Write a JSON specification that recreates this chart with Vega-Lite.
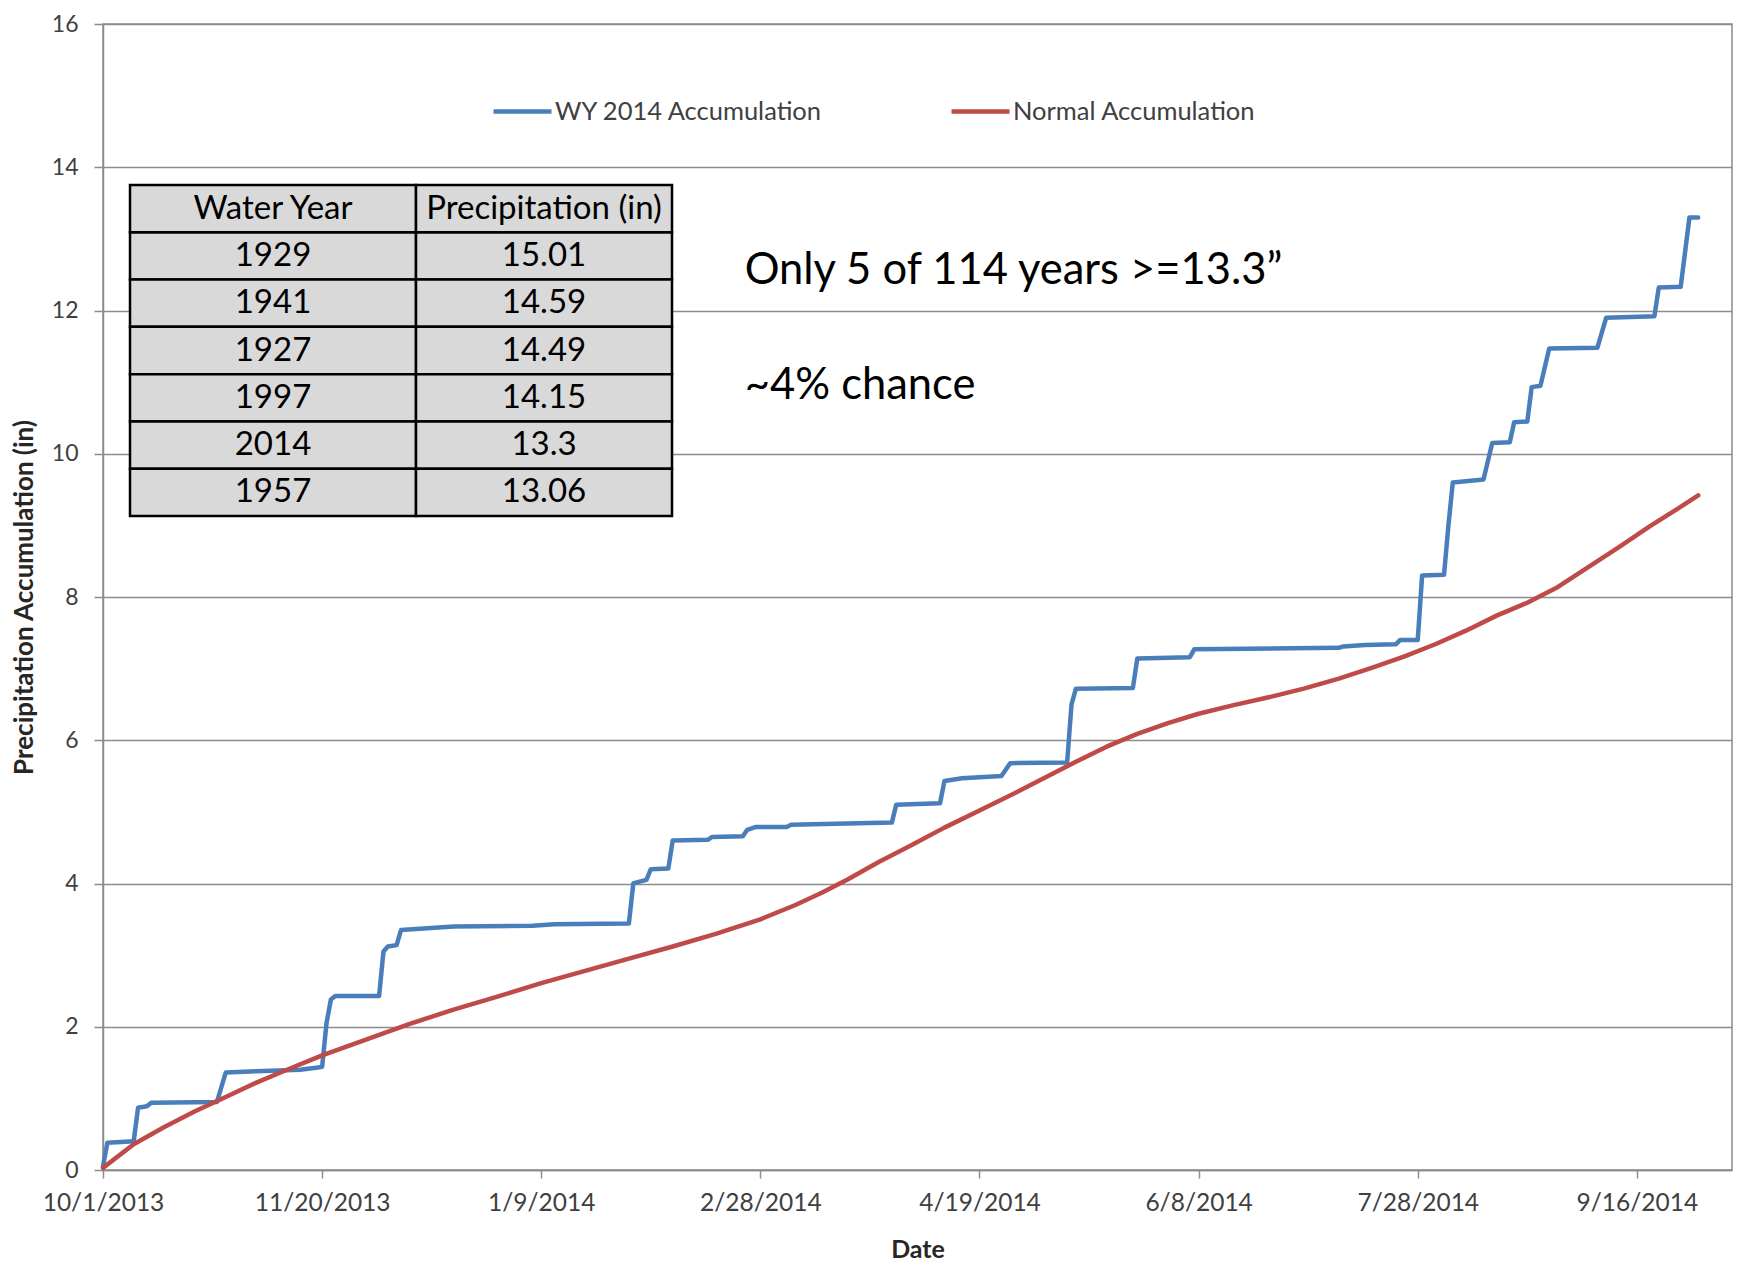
{
  "$schema": "https://vega.github.io/schema/vega-lite/v6.json",
  "width": 1629,
  "height": 1146,
  "autosize": {"type": "none"},
  "padding": {"left": 103, "top": 24, "right": 6, "bottom": 98},
  "background": "white",
  "config": {
    "font": "Lato",
    "view": {"stroke": "#8c8c8c", "strokeWidth": 1.5},
    "axis": {"labelFont": "Lato", "titleFont": "Lato"}
  },
  "datasets": {
    "accumulation": [
      {"date": "2013-10-01", "series": "WY 2014 Accumulation", "inches": 0.05},
      {"date": "2013-10-02", "series": "WY 2014 Accumulation", "inches": 0.38},
      {"date": "2013-10-08", "series": "WY 2014 Accumulation", "inches": 0.40},
      {"date": "2013-10-09", "series": "WY 2014 Accumulation", "inches": 0.87},
      {"date": "2013-10-11", "series": "WY 2014 Accumulation", "inches": 0.89},
      {"date": "2013-10-12", "series": "WY 2014 Accumulation", "inches": 0.94},
      {"date": "2013-10-27", "series": "WY 2014 Accumulation", "inches": 0.95},
      {"date": "2013-10-29", "series": "WY 2014 Accumulation", "inches": 1.36},
      {"date": "2013-11-05", "series": "WY 2014 Accumulation", "inches": 1.38},
      {"date": "2013-11-15", "series": "WY 2014 Accumulation", "inches": 1.40},
      {"date": "2013-11-19", "series": "WY 2014 Accumulation", "inches": 1.43},
      {"date": "2013-11-20", "series": "WY 2014 Accumulation", "inches": 1.44},
      {"date": "2013-11-21", "series": "WY 2014 Accumulation", "inches": 2.05},
      {"date": "2013-11-22", "series": "WY 2014 Accumulation", "inches": 2.38},
      {"date": "2013-11-23", "series": "WY 2014 Accumulation", "inches": 2.43},
      {"date": "2013-12-03", "series": "WY 2014 Accumulation", "inches": 2.43},
      {"date": "2013-12-04", "series": "WY 2014 Accumulation", "inches": 3.05},
      {"date": "2013-12-05", "series": "WY 2014 Accumulation", "inches": 3.12},
      {"date": "2013-12-07", "series": "WY 2014 Accumulation", "inches": 3.14},
      {"date": "2013-12-08", "series": "WY 2014 Accumulation", "inches": 3.35},
      {"date": "2013-12-20", "series": "WY 2014 Accumulation", "inches": 3.40},
      {"date": "2014-01-07", "series": "WY 2014 Accumulation", "inches": 3.41},
      {"date": "2014-01-12", "series": "WY 2014 Accumulation", "inches": 3.43},
      {"date": "2014-01-29", "series": "WY 2014 Accumulation", "inches": 3.44},
      {"date": "2014-01-30", "series": "WY 2014 Accumulation", "inches": 4.00},
      {"date": "2014-01-31", "series": "WY 2014 Accumulation", "inches": 4.02},
      {"date": "2014-02-02", "series": "WY 2014 Accumulation", "inches": 4.05},
      {"date": "2014-02-03", "series": "WY 2014 Accumulation", "inches": 4.20},
      {"date": "2014-02-07", "series": "WY 2014 Accumulation", "inches": 4.21},
      {"date": "2014-02-08", "series": "WY 2014 Accumulation", "inches": 4.60},
      {"date": "2014-02-16", "series": "WY 2014 Accumulation", "inches": 4.61},
      {"date": "2014-02-17", "series": "WY 2014 Accumulation", "inches": 4.65},
      {"date": "2014-02-24", "series": "WY 2014 Accumulation", "inches": 4.66},
      {"date": "2014-02-25", "series": "WY 2014 Accumulation", "inches": 4.75},
      {"date": "2014-02-27", "series": "WY 2014 Accumulation", "inches": 4.79},
      {"date": "2014-03-06", "series": "WY 2014 Accumulation", "inches": 4.79},
      {"date": "2014-03-07", "series": "WY 2014 Accumulation", "inches": 4.82},
      {"date": "2014-03-30", "series": "WY 2014 Accumulation", "inches": 4.85},
      {"date": "2014-03-31", "series": "WY 2014 Accumulation", "inches": 5.10},
      {"date": "2014-04-10", "series": "WY 2014 Accumulation", "inches": 5.12},
      {"date": "2014-04-11", "series": "WY 2014 Accumulation", "inches": 5.43},
      {"date": "2014-04-15", "series": "WY 2014 Accumulation", "inches": 5.47},
      {"date": "2014-04-24", "series": "WY 2014 Accumulation", "inches": 5.50},
      {"date": "2014-04-26", "series": "WY 2014 Accumulation", "inches": 5.68},
      {"date": "2014-05-09", "series": "WY 2014 Accumulation", "inches": 5.69},
      {"date": "2014-05-10", "series": "WY 2014 Accumulation", "inches": 6.50},
      {"date": "2014-05-11", "series": "WY 2014 Accumulation", "inches": 6.72},
      {"date": "2014-05-24", "series": "WY 2014 Accumulation", "inches": 6.73},
      {"date": "2014-05-25", "series": "WY 2014 Accumulation", "inches": 7.14},
      {"date": "2014-06-06", "series": "WY 2014 Accumulation", "inches": 7.16},
      {"date": "2014-06-07", "series": "WY 2014 Accumulation", "inches": 7.27},
      {"date": "2014-07-10", "series": "WY 2014 Accumulation", "inches": 7.29},
      {"date": "2014-07-11", "series": "WY 2014 Accumulation", "inches": 7.31},
      {"date": "2014-07-16", "series": "WY 2014 Accumulation", "inches": 7.33},
      {"date": "2014-07-23", "series": "WY 2014 Accumulation", "inches": 7.34},
      {"date": "2014-07-24", "series": "WY 2014 Accumulation", "inches": 7.40},
      {"date": "2014-07-28", "series": "WY 2014 Accumulation", "inches": 7.40},
      {"date": "2014-07-29", "series": "WY 2014 Accumulation", "inches": 8.30},
      {"date": "2014-08-03", "series": "WY 2014 Accumulation", "inches": 8.31},
      {"date": "2014-08-04", "series": "WY 2014 Accumulation", "inches": 9.00},
      {"date": "2014-08-05", "series": "WY 2014 Accumulation", "inches": 9.60},
      {"date": "2014-08-12", "series": "WY 2014 Accumulation", "inches": 9.64},
      {"date": "2014-08-14", "series": "WY 2014 Accumulation", "inches": 10.15},
      {"date": "2014-08-18", "series": "WY 2014 Accumulation", "inches": 10.16},
      {"date": "2014-08-19", "series": "WY 2014 Accumulation", "inches": 10.44},
      {"date": "2014-08-22", "series": "WY 2014 Accumulation", "inches": 10.45},
      {"date": "2014-08-23", "series": "WY 2014 Accumulation", "inches": 10.93},
      {"date": "2014-08-25", "series": "WY 2014 Accumulation", "inches": 10.95},
      {"date": "2014-08-27", "series": "WY 2014 Accumulation", "inches": 11.47},
      {"date": "2014-09-07", "series": "WY 2014 Accumulation", "inches": 11.48},
      {"date": "2014-09-09", "series": "WY 2014 Accumulation", "inches": 11.90},
      {"date": "2014-09-20", "series": "WY 2014 Accumulation", "inches": 11.92},
      {"date": "2014-09-21", "series": "WY 2014 Accumulation", "inches": 12.32},
      {"date": "2014-09-26", "series": "WY 2014 Accumulation", "inches": 12.33},
      {"date": "2014-09-28", "series": "WY 2014 Accumulation", "inches": 13.30},
      {"date": "2014-09-30", "series": "WY 2014 Accumulation", "inches": 13.30},
      {"date": "2013-10-01", "series": "Normal Accumulation", "inches": 0.03},
      {"date": "2013-10-08", "series": "Normal Accumulation", "inches": 0.36},
      {"date": "2013-10-15", "series": "Normal Accumulation", "inches": 0.60},
      {"date": "2013-10-22", "series": "Normal Accumulation", "inches": 0.82},
      {"date": "2013-10-29", "series": "Normal Accumulation", "inches": 1.02},
      {"date": "2013-11-05", "series": "Normal Accumulation", "inches": 1.22},
      {"date": "2013-11-12", "series": "Normal Accumulation", "inches": 1.40},
      {"date": "2013-11-20", "series": "Normal Accumulation", "inches": 1.60},
      {"date": "2013-11-30", "series": "Normal Accumulation", "inches": 1.82},
      {"date": "2013-12-10", "series": "Normal Accumulation", "inches": 2.04},
      {"date": "2013-12-20", "series": "Normal Accumulation", "inches": 2.24},
      {"date": "2013-12-30", "series": "Normal Accumulation", "inches": 2.42},
      {"date": "2014-01-09", "series": "Normal Accumulation", "inches": 2.61},
      {"date": "2014-01-19", "series": "Normal Accumulation", "inches": 2.78},
      {"date": "2014-01-29", "series": "Normal Accumulation", "inches": 2.95},
      {"date": "2014-02-08", "series": "Normal Accumulation", "inches": 3.12},
      {"date": "2014-02-18", "series": "Normal Accumulation", "inches": 3.30},
      {"date": "2014-02-28", "series": "Normal Accumulation", "inches": 3.50},
      {"date": "2014-03-08", "series": "Normal Accumulation", "inches": 3.70},
      {"date": "2014-03-14", "series": "Normal Accumulation", "inches": 3.87},
      {"date": "2014-03-20", "series": "Normal Accumulation", "inches": 4.06},
      {"date": "2014-03-27", "series": "Normal Accumulation", "inches": 4.30},
      {"date": "2014-04-03", "series": "Normal Accumulation", "inches": 4.52},
      {"date": "2014-04-11", "series": "Normal Accumulation", "inches": 4.78},
      {"date": "2014-04-19", "series": "Normal Accumulation", "inches": 5.02},
      {"date": "2014-04-27", "series": "Normal Accumulation", "inches": 5.26},
      {"date": "2014-05-04", "series": "Normal Accumulation", "inches": 5.48},
      {"date": "2014-05-11", "series": "Normal Accumulation", "inches": 5.70},
      {"date": "2014-05-18", "series": "Normal Accumulation", "inches": 5.91},
      {"date": "2014-05-25", "series": "Normal Accumulation", "inches": 6.09},
      {"date": "2014-06-01", "series": "Normal Accumulation", "inches": 6.24},
      {"date": "2014-06-08", "series": "Normal Accumulation", "inches": 6.37},
      {"date": "2014-06-16", "series": "Normal Accumulation", "inches": 6.49},
      {"date": "2014-06-24", "series": "Normal Accumulation", "inches": 6.60},
      {"date": "2014-07-02", "series": "Normal Accumulation", "inches": 6.72},
      {"date": "2014-07-10", "series": "Normal Accumulation", "inches": 6.86},
      {"date": "2014-07-18", "series": "Normal Accumulation", "inches": 7.02},
      {"date": "2014-07-25", "series": "Normal Accumulation", "inches": 7.17},
      {"date": "2014-08-01", "series": "Normal Accumulation", "inches": 7.34},
      {"date": "2014-08-08", "series": "Normal Accumulation", "inches": 7.53},
      {"date": "2014-08-15", "series": "Normal Accumulation", "inches": 7.74},
      {"date": "2014-08-22", "series": "Normal Accumulation", "inches": 7.92},
      {"date": "2014-08-29", "series": "Normal Accumulation", "inches": 8.14},
      {"date": "2014-09-05", "series": "Normal Accumulation", "inches": 8.42},
      {"date": "2014-09-12", "series": "Normal Accumulation", "inches": 8.70},
      {"date": "2014-09-19", "series": "Normal Accumulation", "inches": 8.99},
      {"date": "2014-09-25", "series": "Normal Accumulation", "inches": 9.22},
      {"date": "2014-09-30", "series": "Normal Accumulation", "inches": 9.42}
    ],
    "wettest": [
      {"Water Year": "1929", "Precipitation (in)": 15.01},
      {"Water Year": "1941", "Precipitation (in)": 14.59},
      {"Water Year": "1927", "Precipitation (in)": 14.49},
      {"Water Year": "1997", "Precipitation (in)": 14.15},
      {"Water Year": "2014", "Precipitation (in)": 13.3},
      {"Water Year": "1957", "Precipitation (in)": 13.06}
    ]
  },
  "resolve": {"scale": {"x": "independent", "y": "independent"}},
  "layer": [
    {
      "layer": [
        {
          "data": {"name": "accumulation"},
          "mark": {"type": "line", "strokeWidth": 4.5, "strokeJoin": "round", "strokeCap": "round"},
          "encoding": {
            "x": {
              "field": "date",
              "type": "temporal",
              "scale": {
                "type": "utc",
                "domain": [
                  {"year": 2013, "month": 10, "date": 1, "utc": true},
                  {"year": 2014, "month": 10, "date": 7, "hours": 17, "utc": true}
                ]
              },
              "axis": {
                "values": [
                  {"year": 2013, "month": 10, "date": 1, "utc": true},
                  {"year": 2013, "month": 11, "date": 20, "utc": true},
                  {"year": 2014, "month": 1, "date": 9, "utc": true},
                  {"year": 2014, "month": 2, "date": 28, "utc": true},
                  {"year": 2014, "month": 4, "date": 19, "utc": true},
                  {"year": 2014, "month": 6, "date": 8, "utc": true},
                  {"year": 2014, "month": 7, "date": 28, "utc": true},
                  {"year": 2014, "month": 9, "date": 16, "utc": true}
                ],
                "format": "%-m/%-d/%Y",
                "grid": false,
                "labelFlush": false,
                "labelOverlap": false,
                "labelFontSize": 24.5,
                "labelColor": "#404040",
                "labelPadding": 13,
                "tickSize": 8,
                "tickColor": "#8c8c8c",
                "tickWidth": 1.5,
                "domainColor": "#8c8c8c",
                "domainWidth": 1.5,
                "title": "Date",
                "titleFontSize": 25,
                "titleFontWeight": "bold",
                "titleColor": "#262626",
                "titleBaseline": "middle",
                "titleY": 79
              }
            },
            "y": {
              "field": "inches",
              "type": "quantitative",
              "scale": {"domain": [0, 16], "nice": false, "zero": true},
              "axis": {
                "values": [0, 2, 4, 6, 8, 10, 12, 14, 16],
                "format": "d",
                "grid": true,
                "gridColor": "#8c8c8c",
                "gridWidth": 1.5,
                "labelFontSize": 23,
                "labelColor": "#404040",
                "labelPadding": 16,
                "tickSize": 9,
                "tickColor": "#8c8c8c",
                "tickWidth": 1.5,
                "domainColor": "#8c8c8c",
                "domainWidth": 1.5,
                "title": "Precipitation Accumulation (in)",
                "titleFontSize": 26,
                "titleFontWeight": "bold",
                "titleColor": "#262626",
                "titleBaseline": "middle",
                "titleX": -79,
                "titleY": 573
              }
            },
            "color": {
              "field": "series",
              "type": "nominal",
              "scale": {
                "domain": ["WY 2014 Accumulation", "Normal Accumulation"],
                "range": ["#4a7ebb", "#be4b48"]
              },
              "legend": {
                "orient": "none",
                "legendX": 388,
                "legendY": 56,
                "direction": "horizontal",
                "title": null,
                "padding": 0,
                "symbolType": "stroke",
                "symbolSize": 3364,
                "symbolStrokeWidth": 4.5,
                "labelFontSize": 25.5,
                "labelColor": "#404040",
                "labelOffset": 1,
                "labelLimit": 500,
                "columnPadding": 119
              }
            }
          }
        },
        {
          "data": {"values": [{"note": "Only 5 of 114 years >=13.3”"}]},
          "mark": {"type": "text", "align": "left", "baseline": "middle", "fontSize": 43.5, "fill": "#000000"},
          "encoding": {
            "x": {"datum": {"year": 2014, "month": 2, "date": 24, "hours": 10, "utc": true}, "type": "temporal"},
            "y": {"datum": 12.55, "type": "quantitative"},
            "text": {"field": "note", "type": "nominal"}
          }
        },
        {
          "data": {"values": [{"note": "~4% chance"}]},
          "mark": {"type": "text", "align": "left", "baseline": "middle", "fontSize": 43.5, "fill": "#000000"},
          "encoding": {
            "x": {"datum": {"year": 2014, "month": 2, "date": 24, "hours": 10, "utc": true}, "type": "temporal"},
            "y": {"datum": 10.94, "type": "quantitative"},
            "text": {"field": "note", "type": "nominal"}
          }
        }
      ]
    },
    {
      "resolve": {"scale": {"x": "independent"}},
      "layer": [
        {
          "encoding": {
            "x": {
              "datum": "Water Year",
              "type": "nominal",
              "scale": {"domain": ["Water Year"], "range": [27, 313], "paddingInner": 0, "paddingOuter": 0},
              "axis": null
            }
          },
          "layer": [
            {
              "data": {"name": "wettest"},
              "encoding": {
                "y": {
                  "field": "Water Year",
                  "type": "nominal",
                  "scale": {"domain": ["head", "1929", "1941", "1927", "1997", "2014", "1957"], "range": [161, 492], "paddingInner": 0, "paddingOuter": 0},
                  "axis": null
                }
              },
              "layer": [
                {"mark": {"type": "rect", "fill": "#d9d9d9", "stroke": "#000000", "strokeWidth": 2.5}},
                {
                  "mark": {"type": "text", "align": "center", "baseline": "middle", "fontSize": 33, "fill": "#000000"},
                  "encoding": {"text": {"field": "Water Year", "type": "nominal"}}
                }
              ]
            },
            {
              "data": {"values": [{"heading": "Water Year"}]},
              "encoding": {
                "y": {
                  "datum": "head",
                  "type": "nominal",
                  "scale": {"domain": ["head", "1929", "1941", "1927", "1997", "2014", "1957"], "range": [161, 492], "paddingInner": 0, "paddingOuter": 0},
                  "axis": null
                }
              },
              "layer": [
                {"mark": {"type": "rect", "fill": "#d9d9d9", "stroke": "#000000", "strokeWidth": 2.5}},
                {
                  "mark": {"type": "text", "align": "center", "baseline": "middle", "fontSize": 33, "fill": "#000000"},
                  "encoding": {"text": {"field": "heading", "type": "nominal"}}
                }
              ]
            }
          ]
        },
        {
          "encoding": {
            "x": {
              "datum": "Precipitation (in)",
              "type": "nominal",
              "scale": {"domain": ["Precipitation (in)"], "range": [313, 569], "paddingInner": 0, "paddingOuter": 0},
              "axis": null
            }
          },
          "layer": [
            {
              "data": {"name": "wettest"},
              "encoding": {
                "y": {
                  "field": "Water Year",
                  "type": "nominal",
                  "scale": {"domain": ["head", "1929", "1941", "1927", "1997", "2014", "1957"], "range": [161, 492], "paddingInner": 0, "paddingOuter": 0},
                  "axis": null
                }
              },
              "layer": [
                {"mark": {"type": "rect", "fill": "#d9d9d9", "stroke": "#000000", "strokeWidth": 2.5}},
                {
                  "mark": {"type": "text", "align": "center", "baseline": "middle", "fontSize": 33, "fill": "#000000"},
                  "encoding": {"text": {"field": "Precipitation (in)", "type": "nominal"}}
                }
              ]
            },
            {
              "data": {"values": [{"heading": "Precipitation (in)"}]},
              "encoding": {
                "y": {
                  "datum": "head",
                  "type": "nominal",
                  "scale": {"domain": ["head", "1929", "1941", "1927", "1997", "2014", "1957"], "range": [161, 492], "paddingInner": 0, "paddingOuter": 0},
                  "axis": null
                }
              },
              "layer": [
                {"mark": {"type": "rect", "fill": "#d9d9d9", "stroke": "#000000", "strokeWidth": 2.5}},
                {
                  "mark": {"type": "text", "align": "center", "baseline": "middle", "fontSize": 33, "fill": "#000000"},
                  "encoding": {"text": {"field": "heading", "type": "nominal"}}
                }
              ]
            }
          ]
        }
      ]
    }
  ]
}
